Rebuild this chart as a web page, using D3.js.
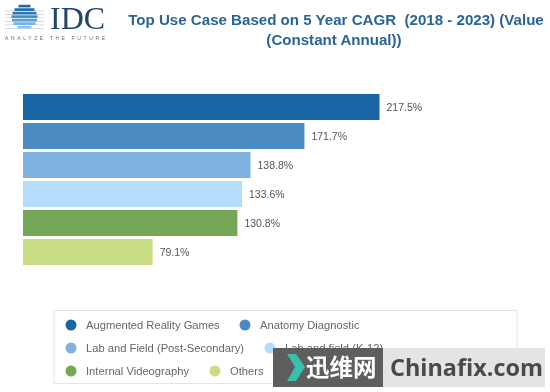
<!DOCTYPE html>
<html lang="en">
<head>
  <meta charset="UTF-8">
  <title>Top Use Case CAGR</title>
  <script src="https://cdnjs.cloudflare.com/ajax/libs/d3/7.0.0/d3.min.js"></script>
  <style>
    html, body { margin: 0; padding: 0; background: #fff; overflow: hidden; }
    svg { display: block; filter: blur(0.35px); }
    text { font-family: "Liberation Sans", Arial, sans-serif; white-space: pre; }
  </style>
</head>
<body>
  <div id="chart"></div>
  <script>
    // values
    const categories = ["Augmented Reality Games", "Anatomy Diagnostic", "Lab and Field (Post-Secondary)",
      "Lab and field (K-12)", "Internal Videography", "Others"];
    const values = [217.5, 171.7, 138.8, 133.6, 130.8, 79.1];
    const colors = ["#1a65a5", "#4a8ac2", "#7fb2e0", "#b5dcfb", "#74a856", "#c9dd84"];
    const titleLines = ["Top Use Case Based on 5 Year CAGR  (2018 - 2023) (Value", "(Constant Annual))"];
    const legendRows = [[0, 1], [2, 3], [4, 5]];

    const width = 550, height = 392;

    const svg = d3.select("#chart")
      .append("svg")
      .attr("width", width)
      .attr("height", height);

    // Logo
    const logo = svg.append("g");
    const stripes = [6, 9.5, 13, 16.5, 20, 23.5, 27];
    const halfW = [6, 10, 12, 13, 12.5, 11, 7];
    const stripeColors = ["#1f6aa8", "#1f6aa8", "#2f7cb8", "#3f8cc8", "#55a0d8", "#6fb4e4", "#8cc6ee"];
    logo.selectAll("rect.glow")
      .data(stripes.slice(1))
      .enter().append("rect")
      .attr("x", 5).attr("y", d => d + 1)
      .attr("width", 39).attr("height", 0.8)
      .attr("fill", "#c5d3e0");
    logo.selectAll("rect.stripe")
      .data(stripes)
      .enter().append("rect")
      .attr("x", (d, i) => 24.5 - halfW[i])
      .attr("y", d => d - 1.2)
      .attr("width", (d, i) => halfW[i] * 2)
      .attr("height", 2.6)
      .attr("fill", (d, i) => stripeColors[i]);
    logo.append("text")
      .attr("x", 50).attr("y", 29)
      .style("font-family", "'Liberation Serif', serif")
      .attr("font-size", 32)
      .attr("textLength", 55)
      .attr("lengthAdjust", "spacingAndGlyphs")
      .attr("fill", "#23466f")
      .text("IDC");
    logo.append("text")
      .attr("x", 5).attr("y", 40)
      .attr("font-size", 5)
      .attr("textLength", 100)
      .attr("fill", "#5f7488")
      .text("ANALYZE THE FUTURE");

    // Title
    svg.append("g").selectAll("text")
      .data(titleLines)
      .enter().append("text")
      .attr("x", (d, i) => i === 0 ? 336 : 334)
      .attr("y", (d, i) => 25 + i * 20)
      .attr("text-anchor", "middle")
      .attr("font-size", 15.1)
      .attr("font-weight", "bold")
      .attr("fill", "#2a6496")
      .text(d => d);

    // Scales
    const x = d3.scaleLinear().domain([0, 217.5]).range([23, 379.5]);
    const y = d3.scaleBand().domain(categories).range([94, 265]).paddingInner(3 / 29);

    // Bars
    svg.selectAll(".bar")
      .data(values)
      .enter().append("rect")
      .attr("class", "bar")
      .attr("x", x(0))
      .attr("y", (d, i) => y(categories[i]))
      .attr("width", d => x(d) - x(0))
      .attr("height", y.bandwidth())
      .attr("fill", (d, i) => colors[i]);

    // Value labels
    svg.selectAll(".value-text")
      .data(values)
      .enter().append("text")
      .attr("class", "value-text")
      .attr("x", d => x(d) + 7)
      .attr("y", (d, i) => y(categories[i]) + y.bandwidth() / 2 + 3.5)
      .attr("font-size", 10.5)
      .attr("fill", "#555")
      .text(d => d.toFixed(1) + "%");

    // Legend
    svg.append("rect")
      .attr("x", 54).attr("y", 310.5)
      .attr("width", 463).attr("height", 73)
      .attr("fill", "#fff")
      .attr("stroke", "#e4e4e4");

    const legendX = [
      [71, 245],
      [71, 270],
      [71, 215]
    ];
    legendRows.forEach((row, r) => {
      const rowY = 325 + r * 23;
      row.forEach((idx, c) => {
        const cx = legendX[r][c];
        svg.append("circle")
          .attr("cx", cx).attr("cy", rowY)
          .attr("r", 5.5)
          .attr("fill", colors[idx]);
        svg.append("text")
          .attr("x", cx + 15).attr("y", rowY + 4)
          .attr("font-size", 11.2)
          .attr("fill", "#666")
          .text(categories[idx]);
      });
    });

    // Watermark
    const mark = svg.append("g");
    mark.append("rect")
      .attr("x", 383).attr("y", 348).attr("width", 162).attr("height", 39)
      .attr("fill", "#e2e2e2").attr("opacity", 0.92);
    mark.append("rect")
      .attr("x", 273).attr("y", 348).attr("width", 110).attr("height", 39)
      .attr("fill", "#5f5d5d");
    mark.append("path")
      .attr("d", d3.line()([[287, 354], [296, 354], [305, 367], [296, 381], [287, 381], [295, 367]]))
      .attr("fill", "#38bfae");
    mark.append("text")
      .attr("x", 306).attr("y", 376)
      .style("font-family", "'Noto Sans CJK SC', sans-serif")
      .attr("font-size", 23.5)
      .attr("font-weight", "bold")
      .attr("fill", "#fff")
      .text("迅维网");
    mark.append("text")
      .attr("x", 390).attr("y", 376)
      .style("font-family", "'Open Sans', sans-serif")
      .attr("font-size", 24)
      .attr("font-weight", "bold")
      .attr("fill", "#4a4a4a")
      .attr("textLength", 153)
      .attr("lengthAdjust", "spacingAndGlyphs")
      .text("Chinafix.com");
  </script>
</body>
</html>
